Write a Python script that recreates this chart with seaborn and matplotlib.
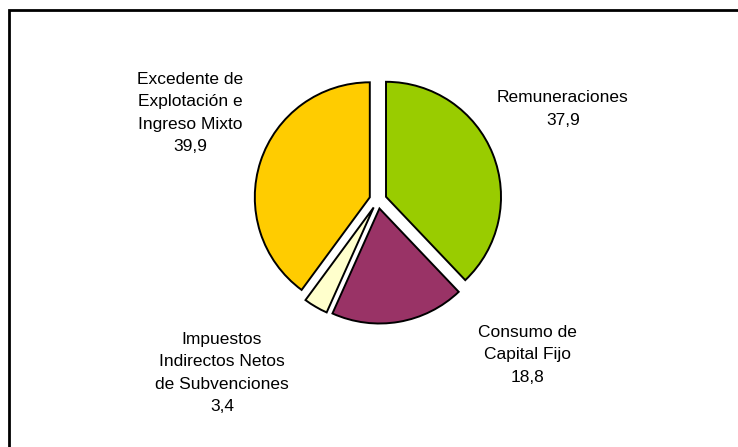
import matplotlib
matplotlib.use("Agg")
import matplotlib.pyplot as plt
import seaborn as sns
from matplotlib.patches import Rectangle

sns.set_theme(style="white")
plt.rcParams['font.family'] = ['Liberation Sans', 'DejaVu Sans']

categories = ["Remuneraciones", "Consumo de\nCapital Fijo",
              "Impuestos\nIndirectos Netos\nde Subvenciones",
              "Excedente de\nExplotación e\nIngreso Mixto"]
values = [37.9, 18.8, 3.4, 39.9]
value_labels = ["37,9", "18,8", "3,4", "39,9"]
colors = ["#99CC00", "#993366", "#FFFFCC", "#FFCC00"]

W, H = 738, 447
fig = plt.figure(figsize=(W / 100, H / 100), dpi=100)
ax = fig.add_axes([0, 0, 1, 1])

cx, cy, R = 378, 200, 115  # pixel centre and radius

wedges, _ = ax.pie(values, colors=colors, startangle=90, counterclock=False,
                   explode=[0.075] * len(values),
                   wedgeprops=dict(edgecolor="black", linewidth=1.4))

ax.set_xlim(-cx / R, (W - cx) / R)
ax.set_ylim(-(H - cy) / R, cy / R)
ax.set_aspect("equal")
ax.axis("off")

def px(x, y):
    return ((x - cx) / R, (cy - y) / R)

label_pos = [(563, 109), (527, 355), (222, 373), (190, 113)]
for cat, val, (lx, ly) in zip(categories, value_labels, label_pos):
    x, y = px(lx, ly)
    ax.text(x, y, f"{cat}\n{val}", ha="center", va="center",
            multialignment="center", fontsize=12.5, linespacing=1.6,
            color="black")

fig.patches.append(Rectangle((9 / W, -0.1), 1.2, 1.1 - 10 / H,
                             transform=fig.transFigure, fill=False,
                             edgecolor="black", linewidth=2))

fig.savefig("out.png", dpi=100, facecolor="white")
